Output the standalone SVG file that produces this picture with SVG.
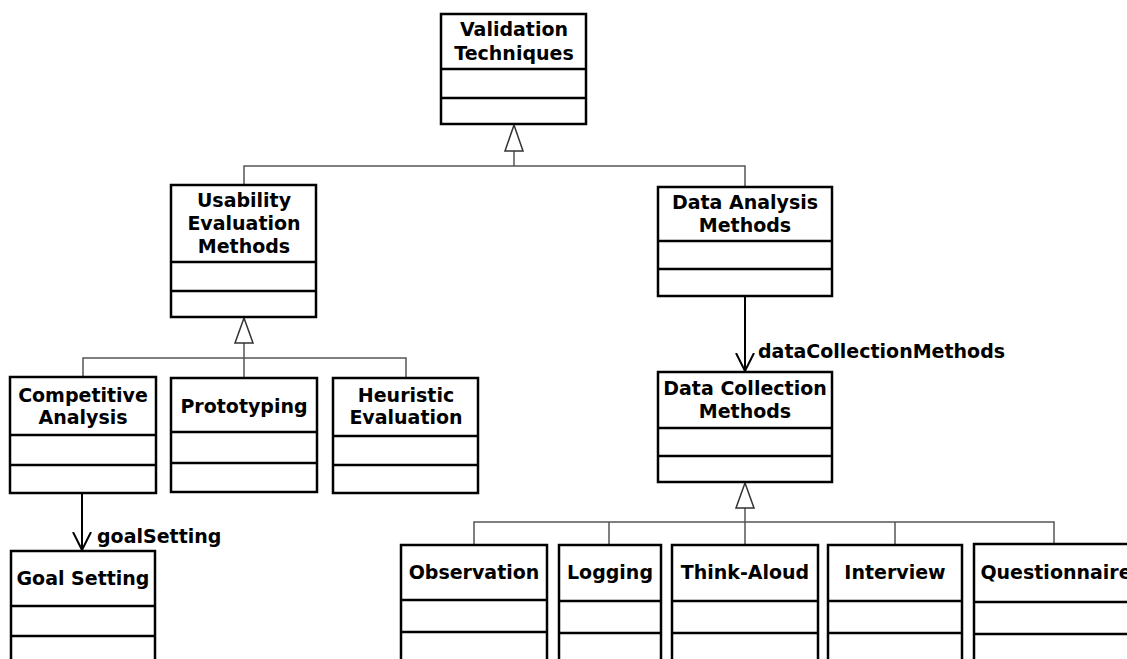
<svg xmlns="http://www.w3.org/2000/svg" width="1127" height="659" viewBox="0 0 1127 659">
<defs>
<style>
.box{fill:#fff;stroke:#000;stroke-width:2.5}
.div{stroke:#000;stroke-width:2.5}
.t{font-family:"DejaVu Sans",Verdana,sans-serif;font-weight:bold;font-size:19px;fill:#000;text-anchor:middle}
.lbl{font-family:"DejaVu Sans",Verdana,sans-serif;font-weight:bold;font-size:19px;fill:#000}
.gen{fill:none;stroke:#555;stroke-width:1.5}
.tri{fill:#fff;stroke:#333;stroke-width:1.5}
.assoc{fill:none;stroke:#000;stroke-width:2}
</style>
<marker id="open" viewBox="0 0 20 20" refX="18" refY="10" markerWidth="20" markerHeight="20" markerUnits="userSpaceOnUse" orient="auto">
<path d="M0,1 L18,10 L0,19" fill="none" stroke="#000" stroke-width="2"/>
</marker>
</defs>
<rect width="1127" height="659" fill="#fff"/>

<g id="connectors">
<polyline class="gen" points="244,185 244,166 745,166 745,187"/>
<line class="gen" x1="514" y1="151" x2="514" y2="166"/>
<polygon class="tri" points="514,125 505,151 523,151"/>
<polyline class="gen" points="83,377 83,358 406,358 406,378"/>
<line class="gen" x1="244" y1="343" x2="244" y2="378"/>
<polygon class="tri" points="244,318 235,343 253,343"/>
<polyline class="gen" points="474,545 474,522 1054,522 1054,544"/>
<line class="gen" x1="609" y1="522" x2="609" y2="545"/>
<line class="gen" x1="895" y1="522" x2="895" y2="545"/>
<line class="gen" x1="745" y1="508" x2="745" y2="545"/>
<polygon class="tri" points="745,483 736,508 754,508"/>
<line class="assoc" x1="745" y1="296" x2="745" y2="371" marker-end="url(#open)"/>
<text class="lbl" x="758" y="358">dataCollectionMethods</text>
<line class="assoc" x1="82" y1="493" x2="82" y2="550" marker-end="url(#open)"/>
<text class="lbl" x="97" y="543">goalSetting</text>
</g>

<g id="validation-techniques">
<rect class="box" x="441" y="14" width="145" height="110"/>
<line class="div" x1="441" y1="69" x2="586" y2="69"/>
<line class="div" x1="441" y1="98" x2="586" y2="98"/>
<text class="t" x="514" y="36">Validation</text>
<text class="t" x="514" y="60">Techniques</text>
</g>

<g id="usability-evaluation-methods">
<rect class="box" x="171" y="185" width="145" height="132"/>
<line class="div" x1="171" y1="262" x2="316" y2="262"/>
<line class="div" x1="171" y1="291" x2="316" y2="291"/>
<text class="t" x="244" y="207">Usability</text>
<text class="t" x="244" y="230">Evaluation</text>
<text class="t" x="244" y="253">Methods</text>
</g>

<g id="data-analysis-methods">
<rect class="box" x="658" y="187" width="174" height="109"/>
<line class="div" x1="658" y1="241" x2="832" y2="241"/>
<line class="div" x1="658" y1="269" x2="832" y2="269"/>
<text class="t" x="745" y="209">Data Analysis</text>
<text class="t" x="745" y="232">Methods</text>
</g>

<g id="data-collection-methods">
<rect class="box" x="658" y="372" width="174" height="110"/>
<line class="div" x1="658" y1="428" x2="832" y2="428"/>
<line class="div" x1="658" y1="456" x2="832" y2="456"/>
<text class="t" x="745" y="395">Data Collection</text>
<text class="t" x="745" y="418">Methods</text>
</g>

<g id="competitive-analysis">
<rect class="box" x="10" y="377" width="146" height="116"/>
<line class="div" x1="10" y1="435" x2="156" y2="435"/>
<line class="div" x1="10" y1="465" x2="156" y2="465"/>
<text class="t" x="83" y="402">Competitive</text>
<text class="t" x="83" y="424">Analysis</text>
</g>

<g id="prototyping">
<rect class="box" x="171" y="378" width="146" height="114"/>
<line class="div" x1="171" y1="432" x2="317" y2="432"/>
<line class="div" x1="171" y1="463" x2="317" y2="463"/>
<text class="t" x="244" y="413">Prototyping</text>
</g>

<g id="heuristic-evaluation">
<rect class="box" x="333" y="378" width="145" height="115"/>
<line class="div" x1="333" y1="436" x2="478" y2="436"/>
<line class="div" x1="333" y1="465" x2="478" y2="465"/>
<text class="t" x="406" y="402">Heuristic</text>
<text class="t" x="406" y="424">Evaluation</text>
</g>

<g id="goal-setting">
<rect class="box" x="11" y="551" width="144" height="130"/>
<line class="div" x1="11" y1="606" x2="155" y2="606"/>
<line class="div" x1="11" y1="636" x2="155" y2="636"/>
<text class="t" x="83" y="585">Goal Setting</text>
</g>

<g id="observation">
<rect class="box" x="401" y="545" width="146" height="130"/>
<line class="div" x1="401" y1="600" x2="547" y2="600"/>
<line class="div" x1="401" y1="632" x2="547" y2="632"/>
<text class="t" x="474" y="579">Observation</text>
</g>

<g id="logging">
<rect class="box" x="559" y="545" width="102" height="130"/>
<line class="div" x1="559" y1="601" x2="661" y2="601"/>
<line class="div" x1="559" y1="633" x2="661" y2="633"/>
<text class="t" x="610" y="579">Logging</text>
</g>

<g id="think-aloud">
<rect class="box" x="672" y="545" width="146" height="130"/>
<line class="div" x1="672" y1="601" x2="818" y2="601"/>
<line class="div" x1="672" y1="633" x2="818" y2="633"/>
<text class="t" x="745" y="579">Think-Aloud</text>
</g>

<g id="interview">
<rect class="box" x="828" y="545" width="134" height="130"/>
<line class="div" x1="828" y1="601" x2="962" y2="601"/>
<line class="div" x1="828" y1="633" x2="962" y2="633"/>
<text class="t" x="895" y="579">Interview</text>
</g>

<g id="questionnaire">
<rect class="box" x="974" y="544" width="170" height="130"/>
<line class="div" x1="974" y1="602" x2="1144" y2="602"/>
<line class="div" x1="974" y1="634" x2="1144" y2="634"/>
<text class="t" x="1056" y="579">Questionnaire</text>
</g>
</svg>
